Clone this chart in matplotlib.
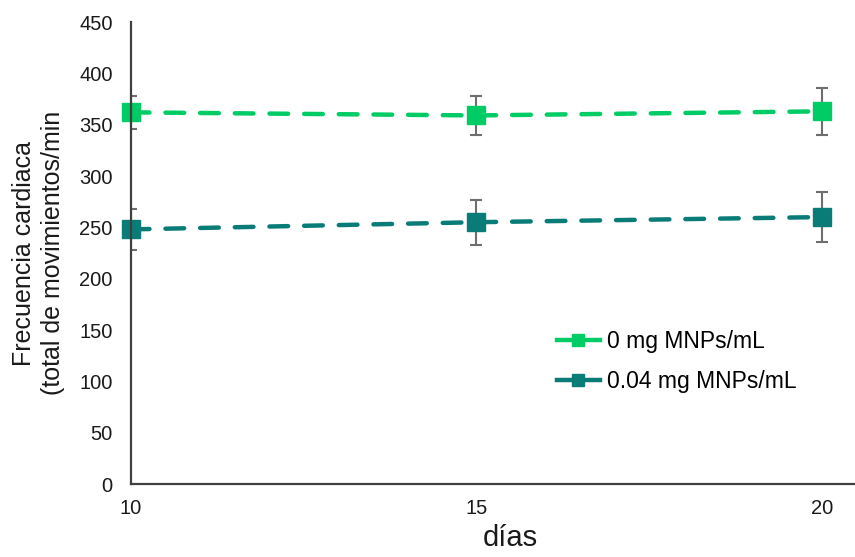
import numpy as np
import matplotlib.pyplot as plt
from matplotlib.lines import Line2D

plt.rcParams['font.family'] = ['Liberation Sans', 'DejaVu Sans']

dias = [10, 15, 20]
control = [362, 359, 363]
control_err = [16, 19, 23]
mnp = [248, 255, 260]
mnp_err = [20, 22, 24]
etiquetas = ['0 mg MNPs/mL', '0.04 mg MNPs/mL']
colores = ['#00CC66', '#0A7C78']

fig = plt.figure(figsize=(8.55, 5.57), dpi=100)
ax = fig.add_axes([0.153, 0.131, 0.847, 0.8295])

for y, err, c in [(control, control_err, colores[0]), (mnp, mnp_err, colores[1])]:
    ax.errorbar(dias, y, yerr=err, fmt='none', ecolor='#6e6e6e', elinewidth=1.5,
                capsize=4, capthick=1.5, zorder=2)
    ax.plot(dias, y, color=c, lw=3.2, ls=(0, (4.2, 3.6)), dash_capstyle='round',
            marker='s', ms=12.5, zorder=3, clip_on=False)

ax.set_xlim(10, 20.48)
ax.set_ylim(0, 450)
ax.set_xticks(dias)
ax.set_yticks(np.arange(0, 451, 50))
ax.tick_params(length=0, labelsize=14.5, colors='#1a1a1a')
ax.tick_params(axis='x', pad=11)
ax.tick_params(axis='y', pad=13)
for s in ['top', 'right']:
    ax.spines[s].set_visible(False)
for s in ['left', 'bottom']:
    ax.spines[s].set_color('#404040')
    ax.spines[s].set_linewidth(1.6)
    ax.spines[s].set_zorder(4)

ax.set_ylabel('Frecuencia cardiaca\n(total de movimientos/min', fontsize=18,
              color='#1a1a1a', linespacing=1.3, labelpad=10)
fig.text(0.597, 0.02, 'días', fontsize=21, ha='center', color='#1a1a1a')

handles = [Line2D([], [], color=c, lw=3.2, marker='s', ms=9) for c in colores]
ax.legend(handles, etiquetas, loc='center left', bbox_to_anchor=(0.588, 0.265),
          frameon=False, fontsize=16.5, handlelength=1.9, handletextpad=0.3,
          labelspacing=0.75, borderpad=0, borderaxespad=0)

fig.savefig('out.png', dpi=100)
